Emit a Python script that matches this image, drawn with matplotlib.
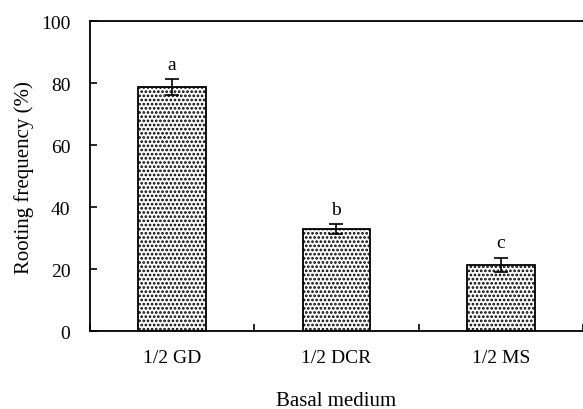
import matplotlib
matplotlib.use('Agg')
import matplotlib.pyplot as plt
import numpy as np

plt.rcParams['font.family'] = ['Liberation Serif', 'DejaVu Serif']
plt.rcParams['hatch.linewidth'] = 1.3

# 資料
media = ['1/2 GD', '1/2 DCR', '1/2 MS']
rooting = [78.8, 32.9, 21.4]
err = [2.6, 1.7, 2.3]
letters = ['a', 'b', 'c']

fig = plt.figure(figsize=(5.83, 4.10), dpi=100)
ax = fig.add_axes([0.154, 0.19, 0.846, 0.756])

x = np.arange(len(media))
ax.bar(x, rooting, width=0.41, color='white', edgecolor='black',
       linewidth=1.3, hatch='....')
ax.errorbar(x, rooting, yerr=err, fmt='none', ecolor='black',
            elinewidth=1.2, capsize=5, capthick=1.2)

for xi, v, e, t in zip(x, rooting, err, letters):
    ax.text(xi, v + e + 2.0, t, ha='center', va='bottom', fontsize=14)

ax.set_xlim(-0.5, 2.5)
ax.set_ylim(0, 100)
ax.set_yticks([0, 20, 40, 60, 80, 100])
ax.set_xticks(x)
ax.set_xticklabels(media, fontsize=14)
ax.set_xticks([-0.5, 0.5, 1.5, 2.5], minor=True)
ax.tick_params(axis='x', which='major', length=0, pad=13)
ax.tick_params(axis='x', which='minor', direction='in', length=5, width=1.2)
ax.tick_params(axis='y', direction='in', length=5, width=1.2, labelsize=14, pad=14)

for s in ['left', 'bottom', 'top']:
    ax.spines[s].set_linewidth(1.3)
ax.spines['right'].set_visible(False)

ax.set_ylabel('Rooting frequency (%)', fontsize=15, labelpad=5)
ax.set_xlabel('Basal medium', fontsize=15, labelpad=18)

fig.savefig('out.png', dpi=100)
